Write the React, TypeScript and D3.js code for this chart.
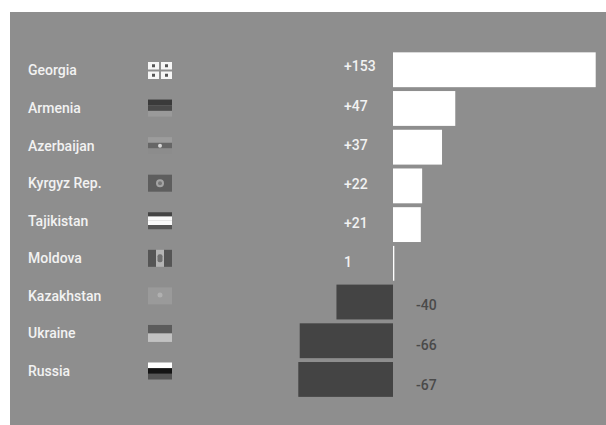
import React from "react";
import * as d3 from "d3";

const countries = ["Georgia", "Armenia", "Azerbaijan", "Kyrgyz Rep.", "Tajikistan", "Moldova", "Kazakhstan", "Ukraine", "Russia"];
const changes = [153, 47, 37, 22, 21, 1, -40, -66, -67];
const valueLabels = ["+153", "+47", "+37", "+22", "+21", "1", "-40", "-66", "-67"];
const horizontalStripes: (string[] | null)[] = [
  null,
  ["#3a3a3a", "#4a4a4a", "#9a9a9a"],
  ["#9c9c9c", "#666666", "#8c8c8c"],
  null,
  ["#444444", "#fafafa", "#fafafa", "#555555"],
  null,
  null,
  ["#5c5c5c", "#c2c2c2"],
  ["#ffffff", "#141414", "#555555"],
];

const WIDTH = 606;
const HEIGHT = 425;

function Flag({ name, stripes, x, y, w, h }: { name: string; stripes: string[] | null; x: number; y: number; w: number; h: number }) {
  if (stripes) {
    const band = d3.scaleBand<number>().domain(d3.range(stripes.length)).range([y, y + h]);
    return (
      <g>
        {stripes.map((c, i) => (
          <rect key={i} x={x} y={band(i)} width={w} height={band.bandwidth()} fill={c} />
        ))}
        {name === "Azerbaijan" && <circle cx={x + w / 2} cy={y + h / 2} r={2} fill="#d8d8d8" />}
      </g>
    );
  }
  if (name === "Georgia") {
    const cw = w / 2 - 1;
    const ch = h / 2 - 1;
    return (
      <g>
        {[0, 1].flatMap((r) =>
          [0, 1].map((c) => {
            const rx = x + c * (cw + 2);
            const ry = y + r * (ch + 2);
            return (
              <g key={`${r}-${c}`}>
                <rect x={rx} y={ry} width={cw} height={ch} fill="#f6f6f6" />
                <rect x={rx + cw / 2 - 1.5} y={ry + ch / 2 - 1.5} width={3} height={3} fill="#555" />
              </g>
            );
          })
        )}
      </g>
    );
  }
  if (name === "Kyrgyz Rep.") {
    return (
      <g>
        <rect x={x} y={y} width={w} height={h} fill="#5e5e5e" />
        <circle cx={x + w / 2} cy={y + h / 2} r={4} fill="#a4a4a4" />
        <circle cx={x + w / 2} cy={y + h / 2} r={2} fill="#777" />
      </g>
    );
  }
  if (name === "Moldova") {
    return (
      <g>
        <rect x={x} y={y} width={w / 3} height={h} fill="#555" />
        <rect x={x + w / 3} y={y} width={w / 3} height={h} fill="#b4b4b4" />
        <rect x={x + (2 * w) / 3} y={y} width={w / 3} height={h} fill="#555" />
        <rect x={x + w / 2 - 2.5} y={y + h / 2 - 4} width={5} height={8} rx={2} fill="#707070" />
      </g>
    );
  }
  return (
    <g>
      <rect x={x} y={y} width={w} height={h} fill="#9a9a9a" />
      <circle cx={x + w / 2} cy={y + h / 2 - 1} r={2.5} fill="#b0b0b0" />
    </g>
  );
}

export default function App() {
  const x = d3.scaleLinear().domain([-67, 0, 153]).range([298.3, 393, 595.7]);
  const barY = d3.scaleBand<number>().domain(d3.range(countries.length)).range([50.4, 398.8]).paddingInner(0.1).paddingOuter(0.05);
  const rowY = d3.scalePoint<number>().domain(d3.range(countries.length)).range([70.5, 371]);
  const valueY = (i: number) => (changes[i] >= 0 ? d3.scaleLinear().domain([0, 5]).range([66.5, 262.5])(i) : d3.scaleLinear().domain([6, 8]).range([305.5, 385])(i));

  return (
    <svg
      width={WIDTH}
      height={HEIGHT}
      viewBox={`0 0 ${WIDTH} ${HEIGHT}`}
      style={{ position: "absolute", left: 0, top: 0, display: "block", background: "#fff" }}
      fontFamily="Roboto, sans-serif"
    >
      <rect x={10} y={12} width={WIDTH - 10} height={HEIGHT - 12} fill="#8e8e8e" />
      {countries.map((name, i) => (
        <g key={name}>
          <text x={28} y={rowY(i)} dy="0.35em" fontSize={14} fontWeight={500} fill="#f2f2f2">
            {name}
          </text>
          <Flag name={name} stripes={horizontalStripes[i]} x={148} y={(rowY(i) as number) - 8.5} w={24} h={17} />
          <rect
            x={Math.min(x(0), x(changes[i]))}
            y={barY(i)}
            width={Math.abs(x(changes[i]) - x(0))}
            height={barY.bandwidth()}
            fill={changes[i] >= 0 ? "#ffffff" : "#444444"}
          />
          <text
            x={changes[i] >= 0 ? 344 : 416}
            y={valueY(i)}
            dy="0.35em"
            fontSize={14}
            fontWeight={500}
            fill={changes[i] >= 0 ? "#f2f2f2" : "#4a4a4a"}
          >
            {valueLabels[i]}
          </text>
        </g>
      ))}
    </svg>
  );
}
